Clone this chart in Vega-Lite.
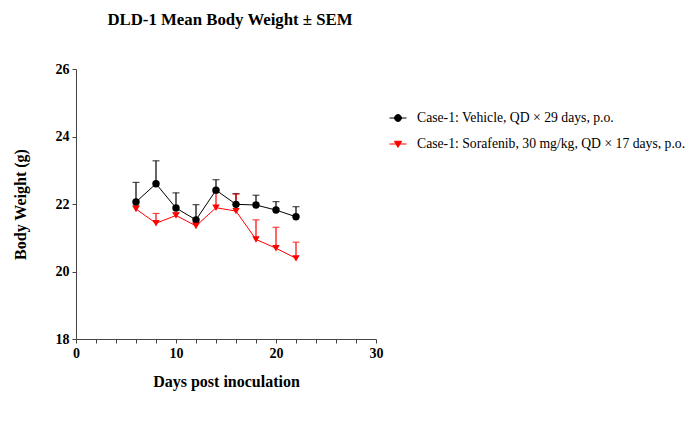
{
  "$schema": "https://vega.github.io/schema/vega-lite/v6.json",
  "width": 300,
  "height": 270,
  "autosize": "none",
  "padding": {"left": 76, "top": 69, "right": 317, "bottom": 83},
  "background": "white",
  "title": {"text": "DLD-1 Mean Body Weight ± SEM", "font": "Liberation Serif", "fontSize": 16.8, "fontWeight": "bold", "anchor": "middle", "offset": 33, "color": "black", "dx": 4},
  "config": {
    "view": {"stroke": null},
    "axis": {"labelFont": "Liberation Serif", "titleFont": "Liberation Serif", "labelFontWeight": "bold", "titleFontWeight": "bold", "labelFontSize": 14, "titleFontSize": 16, "labelColor": "black", "titleColor": "black", "domainColor": "#444444", "tickColor": "#444444", "grid": false, "tickSize": 4, "labelFlush": false}
  },
  "data": {"values": [
    {"day": 6, "group": "Case-1: Vehicle, QD × 29 days, p.o.", "mean": 22.06, "upper": 22.64},
    {"day": 8, "group": "Case-1: Vehicle, QD × 29 days, p.o.", "mean": 22.60, "upper": 23.28},
    {"day": 10, "group": "Case-1: Vehicle, QD × 29 days, p.o.", "mean": 21.88, "upper": 22.33},
    {"day": 12, "group": "Case-1: Vehicle, QD × 29 days, p.o.", "mean": 21.53, "upper": 21.98},
    {"day": 14, "group": "Case-1: Vehicle, QD × 29 days, p.o.", "mean": 22.41, "upper": 22.72},
    {"day": 16, "group": "Case-1: Vehicle, QD × 29 days, p.o.", "mean": 21.99, "upper": 22.31},
    {"day": 18, "group": "Case-1: Vehicle, QD × 29 days, p.o.", "mean": 21.97, "upper": 22.26},
    {"day": 20, "group": "Case-1: Vehicle, QD × 29 days, p.o.", "mean": 21.82, "upper": 22.07},
    {"day": 22, "group": "Case-1: Vehicle, QD × 29 days, p.o.", "mean": 21.62, "upper": 21.92},
    {"day": 6, "group": "Case-1: Sorafenib, 30 mg/kg, QD × 17 days, p.o.", "mean": 21.85, "upper": 21.95},
    {"day": 8, "group": "Case-1: Sorafenib, 30 mg/kg, QD × 17 days, p.o.", "mean": 21.43, "upper": 21.72},
    {"day": 10, "group": "Case-1: Sorafenib, 30 mg/kg, QD × 17 days, p.o.", "mean": 21.66, "upper": 21.74},
    {"day": 12, "group": "Case-1: Sorafenib, 30 mg/kg, QD × 17 days, p.o.", "mean": 21.35, "upper": 21.45},
    {"day": 14, "group": "Case-1: Sorafenib, 30 mg/kg, QD × 17 days, p.o.", "mean": 21.89, "upper": 22.35},
    {"day": 16, "group": "Case-1: Sorafenib, 30 mg/kg, QD × 17 days, p.o.", "mean": 21.79, "upper": 22.29},
    {"day": 18, "group": "Case-1: Sorafenib, 30 mg/kg, QD × 17 days, p.o.", "mean": 20.95, "upper": 21.53},
    {"day": 20, "group": "Case-1: Sorafenib, 30 mg/kg, QD × 17 days, p.o.", "mean": 20.69, "upper": 21.31},
    {"day": 22, "group": "Case-1: Sorafenib, 30 mg/kg, QD × 17 days, p.o.", "mean": 20.39, "upper": 20.87}
  ]},
  "encoding": {
    "x": {"field": "day", "type": "quantitative", "scale": {"domain": [0, 30], "nice": false},
      "axis": {"title": "Days post inoculation", "values": [0,2,4,6,8,10,12,14,16,18,20,22,24,26,28,30], "labelExpr": "datum.value % 10 == 0 ? datum.label : ''", "titlePadding": 13, "labelPadding": 3}},
    "color": {"field": "group", "type": "nominal",
      "scale": {"domain": ["Case-1: Vehicle, QD × 29 days, p.o.", "Case-1: Sorafenib, 30 mg/kg, QD × 17 days, p.o."], "range": ["#000000", "#ff0000"]},
      "legend": {"orient": "none", "legendX": 313, "legendY": 40, "title": null, "labelFont": "Liberation Serif", "labelFontSize": 13.7, "labelColor": "black", "labelLimit": 0, "symbolSize": 289, "rowPadding": 10, "labelOffset": 10, "symbolStrokeWidth": 1,
        "encode": {"symbols": {"update": {
          "shape": {"signal": "datum.value == 'Case-1: Vehicle, QD × 29 days, p.o.' ? 'M -1 0 L 1 0 M 0.4 0 A 0.4 0.4 0 1 1 -0.4 0 A 0.4 0.4 0 1 1 0.4 0 Z' : 'M -1 0 L 1 0 M -0.42 -0.32 L 0.42 -0.32 L 0 0.4 Z'"},
          "fill": {"signal": "scale('color', datum.value)"},
          "stroke": {"signal": "scale('color', datum.value)"},
          "strokeWidth": {"value": 1}
        }}}}}
  },
  "layer": [
    {"mark": {"type": "line", "strokeWidth": 1},
     "encoding": {"y": {"field": "mean", "type": "quantitative", "scale": {"domain": [18, 26], "nice": false},
       "axis": {"title": "Body Weight (g)", "values": [18,19,20,21,22,23,24,25,26], "labelExpr": "datum.value % 2 == 0 ? datum.label : ''", "titlePadding": 27, "labelPadding": 3}}}},
    {"mark": {"type": "rule", "strokeWidth": 1.2},
     "encoding": {"y": {"field": "mean", "type": "quantitative"}, "y2": {"field": "upper"}}},
    {"mark": {"type": "tick", "orient": "horizontal", "size": 7, "thickness": 1.2},
     "encoding": {"y": {"field": "upper", "type": "quantitative"}}},
    {"transform": [{"filter": "datum.group == 'Case-1: Vehicle, QD × 29 days, p.o.'"}],
     "mark": {"type": "point", "filled": true, "opacity": 1, "size": 55, "shape": "circle"},
     "encoding": {"y": {"field": "mean", "type": "quantitative"}}},
    {"transform": [{"filter": "datum.group != 'Case-1: Vehicle, QD × 29 days, p.o.'"}],
     "mark": {"type": "point", "filled": true, "opacity": 1, "size": 55, "shape": "triangle-down"},
     "encoding": {"y": {"field": "mean", "type": "quantitative"}}}
  ]
}
